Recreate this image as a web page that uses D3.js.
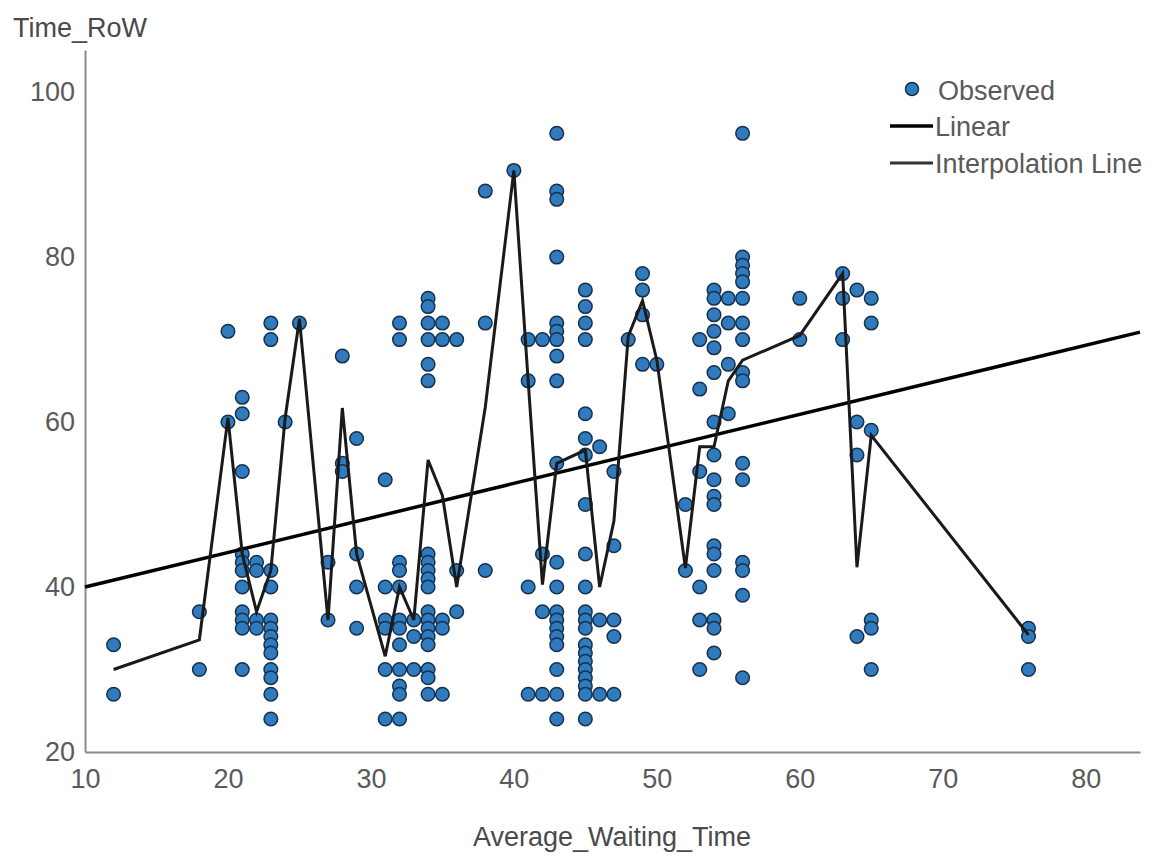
<!DOCTYPE html>
<html>
<head>
<meta charset="utf-8">
<script src="https://cdn.jsdelivr.net/npm/d3@7"></script>
<style>
  body { margin: 0; background: #fff; }
  text { font-family: "Liberation Sans", Arial, sans-serif; }
</style>
</head>
<body>
<svg id="chart" width="1158" height="860"></svg>
<script>
// observed points, grouped by Average_Waiting_Time
var waitTimes = [12, 18, 20, 21, 22, 23, 24, 25, 27, 28, 29, 31, 32, 33, 34, 35, 36, 38, 40, 41, 42, 43,
                 45, 46, 47, 48, 49, 50, 52, 53, 54, 55, 56, 60, 63, 64, 65, 76];
var timeRow = [
  [33, 27],
  [37, 30],
  [71, 60],
  [63, 61, 54, 44, 43, 42, 40, 37, 36, 35, 30],
  [43, 42, 36, 35],
  [72, 70, 42, 40, 36, 35, 34, 33, 32, 30, 29, 27, 24],
  [60],
  [72],
  [43, 36],
  [68, 55, 54],
  [58, 44, 40, 35],
  [53, 40, 36, 35, 30, 24],
  [72, 70, 43, 42, 40, 36, 35, 33, 30, 28, 27, 24],
  [36, 34, 30],
  [75, 74, 72, 70, 67, 65, 44, 43, 42, 41, 40, 37, 36, 35, 34, 33, 30, 29, 27],
  [72, 70, 36, 35, 27],
  [70, 42, 37],
  [88, 72, 42],
  [90.5],
  [70, 65, 40, 27],
  [70, 44, 37, 27],
  [95, 88, 87, 80, 72, 71, 70, 68, 65, 55, 43, 40, 37, 36, 35, 34, 33, 30, 27, 24],
  [76, 74, 72, 70, 61, 58, 56, 50, 44, 40, 37, 36, 35, 33, 32, 31, 30, 29, 28, 27, 24],
  [57, 36, 27],
  [54, 45, 36, 34, 27],
  [70],
  [78, 76, 73, 67],
  [67],
  [50, 42],
  [70, 64, 54, 40, 36, 30],
  [76, 75, 73, 71, 69, 66, 60, 56, 53, 51, 50, 45, 44, 42, 36, 35, 32],
  [75, 72, 67, 61],
  [95, 80, 79, 78, 77, 75, 72, 70, 66, 65, 55, 53, 43, 42, 39, 29],
  [75, 70],
  [78, 75, 70],
  [76, 60, 56, 34],
  [75, 72, 59, 36, 35, 30],
  [35, 34, 30]
];

// interpolation line vertices
var interpX = [12, 18, 20, 21, 22, 23, 24, 25, 27, 28, 29, 31, 32, 33, 34, 35, 36, 38, 40, 41, 42, 43,
               45, 46, 47, 48, 49, 50, 52, 53, 54, 55, 56, 60, 63, 64, 65, 76];
var interpY = [30, 33.6, 60.5, 44, 37, 42, 60.5, 72.5, 36, 61.7, 44, 31.6, 40, 36, 55.4, 51.1, 40, 61.8, 90.5, 65, 40.3, 55,
               56.6, 40, 48, 70.4, 74.7, 67.5, 42.3, 57, 57, 65, 67.5, 70.5, 78, 42.4, 58.4, 34.2];

// linear fit end points
var linearX = [10, 83.8];
var linearY = [40, 70.9];

var xTicks = [10, 20, 30, 40, 50, 60, 70, 80];
var yTicks = [20, 40, 60, 80, 100];
var legendLabels = ["Observed", "Linear", "Interpolation Line"];

var svg = d3.select("#chart");

var x = d3.scaleLinear().domain([10, 83.8]).range([85, 1140]);
var y = d3.scaleLinear().domain([20, 105.1]).range([752, 50]);

var points = [];
waitTimes.forEach(function (w, i) {
  timeRow[i].forEach(function (t) { points.push({ w: w, t: t }); });
});

// axes
var xAxis = svg.append("g")
  .attr("transform", "translate(0,752)")
  .call(d3.axisBottom(x).tickValues(xTicks).tickSize(0).tickSizeOuter(0).tickPadding(17));

var yAxis = svg.append("g")
  .attr("transform", "translate(85,0)")
  .call(d3.axisLeft(y).tickValues(yTicks).tickSize(0).tickSizeOuter(0).tickPadding(10));

[xAxis, yAxis].forEach(function (g) {
  g.select(".domain").attr("stroke", "#8a8a8a").attr("stroke-width", 2);
  g.selectAll("text")
    .attr("fill", "#5a5a5a")
    .style("font-size", "27px")
    .style("font-family", "'Liberation Sans', Arial, sans-serif");
});

// axis titles
svg.append("text")
  .attr("x", 13)
  .attr("y", 37)
  .attr("fill", "#4a4a4a")
  .style("font-size", "27px")
  .text("Time_RoW");

svg.append("text")
  .attr("x", 612)
  .attr("y", 846)
  .attr("text-anchor", "middle")
  .attr("fill", "#4a4a4a")
  .style("font-size", "27px")
  .text("Average_Waiting_Time");

// observed points
svg.append("g")
  .selectAll("circle")
  .data(points)
  .enter().append("circle")
  .attr("cx", function (d) { return x(d.w); })
  .attr("cy", function (d) { return y(d.t); })
  .attr("r", 6.8)
  .attr("fill", "#2f7bbd")
  .attr("stroke", "#17314d")
  .attr("stroke-width", 1.5);

// linear fit
var linearData = linearX.map(function (v, i) { return [v, linearY[i]]; });
svg.append("path")
  .datum(linearData)
  .attr("fill", "none")
  .attr("stroke", "#000")
  .attr("stroke-width", 3.5)
  .attr("d", d3.line().x(function (d) { return x(d[0]); }).y(function (d) { return y(d[1]); }));

// interpolation line
var interpData = interpX.map(function (v, i) { return [v, interpY[i]]; });
svg.append("path")
  .datum(interpData)
  .attr("fill", "none")
  .attr("stroke", "#1a1a1a")
  .attr("stroke-width", 3)
  .attr("stroke-linejoin", "miter")
  .attr("d", d3.line().x(function (d) { return x(d[0]); }).y(function (d) { return y(d[1]); }));

// legend
var legend = svg.append("g");
var legendY = [91, 127, 164];

legend.append("circle")
  .attr("cx", 912)
  .attr("cy", legendY[0] - 2)
  .attr("r", 6.5)
  .attr("fill", "#2f7bbd")
  .attr("stroke", "#17314d")
  .attr("stroke-width", 1.5);

legend.append("line")
  .attr("x1", 890).attr("x2", 933)
  .attr("y1", legendY[1] - 1).attr("y2", legendY[1] - 1)
  .attr("stroke", "#000").attr("stroke-width", 3.5);

legend.append("line")
  .attr("x1", 890).attr("x2", 933)
  .attr("y1", legendY[2] - 1).attr("y2", legendY[2] - 1)
  .attr("stroke", "#333").attr("stroke-width", 3);

legend.selectAll("text")
  .data(legendLabels)
  .enter().append("text")
  .attr("x", function (d, i) { return i === 0 ? 938 : 935; })
  .attr("y", function (d, i) { return legendY[i]; })
  .attr("dy", "0.35em")
  .attr("fill", "#5a5a5a")
  .style("font-size", "27px")
  .text(function (d) { return d; });
</script>
</body>
</html>
